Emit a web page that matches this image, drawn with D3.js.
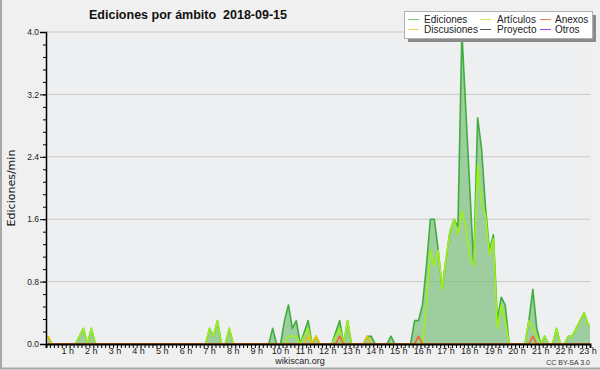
<!DOCTYPE html>
<html>
<head>
<meta charset="utf-8">
<script src="https://cdn.jsdelivr.net/npm/d3@7"></script>
<style>
  body { margin: 0; background: #f0f0f0; }
  svg { display: block; }
</style>
</head>
<body>
<svg id="chart" width="600" height="370"></svg>
<script>
// valores por tramo de 10 minutos (ediciones/min), tramo i centrado en i*10+5 min
var ediciones = [
  0.1,0,0,0,0,0,0,0,0.1,0.2,0,0.2,
  0,0,0,0,0,0,0,0,0,0,0,0,
  0,0,0,0,0,0,0,0,0,0,0,0,
  0,0,0,0,0,0.2,0.1,0.3,0,0,0.2,0,
  0,0,0,0,0,0,0,0,0,0.2,0,0,
  0.3,0.5,0.2,0.3,0,0.15,0.3,0,0.1,0,0,0,
  0,0.15,0.3,0,0.3,0,0,0,0,0.1,0.1,0,
  0,0,0,0.1,0,0,0,0,0,0.3,0.3,0.5,
  1.0,1.6,1.6,1.2,0.7,1.1,1.45,1.6,1.5,4.0,3.0,2.0,
  1.0,2.9,2.5,1.75,1.2,1.4,0.3,0.6,0.5,0,0,0,
  0,0,0.3,0.7,0.2,0,0.1,0,0,0.2,0,0,
  0.1,0.1,0.2,0.3,0.4,0.25,0.2
];
var articulos = [
  0,0,0,0,0,0,0,0,0.1,0.2,0,0.2,
  0,0,0,0,0,0,0,0,0,0,0,0,
  0,0,0,0,0,0,0,0,0,0,0,0,
  0,0,0,0,0,0.2,0.1,0.3,0,0,0.2,0,
  0,0,0,0,0,0,0,0,0,0,0,0,
  0,0.1,0.1,0.1,0,0.1,0.2,0,0,0,0,0,
  0,0.1,0.2,0,0.3,0,0,0,0,0,0,0,
  0,0,0,0,0,0,0,0,0,0,0,0,
  0.5,1.2,1.0,1.2,0.7,1.1,1.45,1.6,1.4,1.7,1.5,1.1,
  1.0,2.3,1.8,1.65,1.15,1.35,0.2,0.5,0.3,0,0,0,
  0,0,0.3,0.2,0.1,0,0.1,0,0,0.2,0,0,
  0.1,0.1,0.2,0.3,0.4,0.25,0.2
];
var anexos = [
  0,0,0,0,0,0,0,0,0,0,0,0,
  0,0,0,0,0,0,0,0,0,0,0,0,
  0,0,0,0,0,0,0,0,0,0,0,0,
  0,0,0,0,0,0,0,0,0,0,0,0,
  0,0,0,0,0,0,0,0,0,0,0,0,
  0,0,0,0,0,0,0,0,0,0,0,0,
  0,0,0.1,0,0,0,0,0,0,0,0,0,
  0,0,0,0,0,0,0,0,0,0,0.1,0,
  0,0,0,0,0,0,0,0,0,0,0,0,
  0,0,0,0,0,0,0,0,0,0,0,0,
  0,0,0,0.1,0,0,0,0,0,0,0,0,
  0,0,0,0,0,0,0
];
var discusiones = [
  0.1,0,0,0,0,0,0,0,0,0,0,0,
  0,0,0,0,0,0,0,0,0,0,0,0,
  0,0,0,0,0,0,0,0,0,0,0,0,
  0,0,0,0,0,0,0,0,0,0,0,0,
  0,0,0,0,0,0,0,0,0,0,0,0,
  0,0,0,0,0,0,0.1,0,0.1,0,0,0,
  0,0,0,0,0,0,0,0,0,0.1,0,0,
  0,0,0,0,0,0,0,0,0,0,0,0,
  0,0,0,0,0,0,0,0,0,0,0,0,
  0,0,0,0,0,0,0,0,0,0,0,0,
  0,0,0,0,0,0,0,0,0,0,0,0,
  0,0,0,0,0,0,0
];
var hourLabels = ["1 h","2 h","3 h","4 h","5 h","6 h","7 h","8 h","9 h","10 h","11 h","12 h",
  "13 h","14 h","15 h","16 h","17 h","18 h","19 h","20 h","21 h","22 h","23 h"];
var yTicks = [0, 0.8, 1.6, 2.4, 3.2, 4.0];
var legendItems = [
  { name: "Ediciones", color: "#80cc80" },
  { name: "Discusiones", color: "#f2d050" },
  { name: "Artículos", color: "#ccee66" },
  { name: "Proyecto", color: "#555555" },
  { name: "Anexos", color: "#f08050" },
  { name: "Otros", color: "#9a40f0" }
];

var svg = d3.select("#chart");
var margin = { top: 32, right: 10, bottom: 26, left: 46 },
  width = +svg.attr("width") - margin.left - margin.right,
  height = +svg.attr("height") - margin.top - margin.bottom;

var x = d3.scaleLinear().domain([0, 1380]).range([margin.left, margin.left + width]);
var y = d3.scaleLinear().domain([0, 4]).range([margin.top + height, margin.top]);

// fondo + marco
svg.append("rect").attr("width", 600).attr("height", 370).attr("fill", "#f0f0f0");
svg.append("rect")
  .attr("x", margin.left).attr("y", margin.top)
  .attr("width", width).attr("height", height)
  .attr("fill", "#eeeff1");
svg.append("path").attr("d", "M1,0V368.5H600").attr("fill", "none")
  .attr("stroke", "#a8a8a8").attr("stroke-width", 2);

// rejilla
svg.append("g").selectAll("line")
  .data(yTicks.slice(1))
  .enter().append("line")
  .attr("x1", margin.left).attr("x2", margin.left + width)
  .attr("y1", function (d) { return y(d); }).attr("y2", function (d) { return y(d); })
  .attr("stroke", "#c8c8c8").attr("stroke-width", 1);

svg.append("clipPath").attr("id", "clip")
  .append("rect").attr("x", margin.left).attr("y", 0)
  .attr("width", width).attr("height", margin.top + height);

var tmin = function (d, i) { return x(i * 10 + 5); };

var area = d3.area().x(tmin).y0(y(0)).y1(function (d) { return y(d); });
var line = d3.line().x(tmin).y(function (d) { return y(d); });

var g = svg.append("g").attr("clip-path", "url(#clip)");

g.append("path").datum(ediciones)
  .attr("d", area).attr("fill", "#6cb86c").attr("fill-opacity", 0.62);

var series = [
  { data: ediciones, color: "#3fae3f" },
  { data: articulos, color: "#9ef01a" },
  { data: discusiones, color: "#f0c400" },
  { data: anexos, color: "#f2652a" }
];
series.forEach(function (s) {
  g.append("path").datum(s.data)
    .attr("d", line)
    .attr("fill", "none")
    .attr("stroke", s.color)
    .attr("stroke-width", 1.6)
    .attr("stroke-linejoin", "round");
});

// eje x
svg.append("g")
  .attr("transform", "translate(0," + (margin.top + height) + ")")
  .call(d3.axisBottom(x).tickValues(d3.range(0, 1381, 10)).tickSize(4).tickFormat(""))
  .call(function (a) {
    a.select(".domain").attr("stroke", "#000").attr("stroke-width", 2);
    a.selectAll(".tick line").attr("stroke", "#000");
  });

svg.append("g").selectAll("text")
  .data(hourLabels)
  .enter().append("text")
  .attr("x", function (d, i) { return x((i + 1) * 60) - 2; })
  .attr("y", margin.top + height + 10)
  .attr("text-anchor", "middle")
  .attr("font-family", "Liberation Sans, Arial, sans-serif")
  .attr("font-size", 9)
  .attr("fill", "#222")
  .text(function (d) { return d; });

// eje y
svg.append("g")
  .attr("transform", "translate(" + margin.left + ",0)")
  .call(d3.axisLeft(y).tickValues(d3.range(0, 4.01, 0.16)).tickSize(3).tickFormat(""))
  .call(function (a) { a.select(".domain").remove(); a.selectAll(".tick line").attr("stroke", "#000"); });

svg.append("g")
  .attr("transform", "translate(" + margin.left + ",0)")
  .call(d3.axisLeft(y).tickValues(yTicks).tickSize(6).tickPadding(1).tickFormat(d3.format(".1f")))
  .call(function (a) {
    a.select(".domain").attr("stroke", "#000").attr("stroke-width", 1.5);
    a.selectAll(".tick line").attr("stroke", "#000");
    a.selectAll("text").attr("font-family", "Liberation Sans, Arial, sans-serif")
      .attr("font-size", 8.5).attr("fill", "#222");
  });

svg.append("text")
  .attr("transform", "translate(15," + 188 + ") rotate(-90)")
  .attr("text-anchor", "middle")
  .attr("font-family", "DejaVu Sans, sans-serif")
  .attr("font-size", 11)
  .attr("fill", "#111")
  .text("Ediciones/min");

// título
svg.append("text")
  .attr("x", 188).attr("y", 19)
  .attr("text-anchor", "middle")
  .attr("font-family", "Liberation Sans, Arial, sans-serif")
  .attr("font-weight", "bold")
  .attr("font-size", 12.5)
  .attr("fill", "#111")
  .attr("xml:space", "preserve")
  .text("Ediciones por ámbito  2018-09-15");

// leyenda
var lg = svg.append("g");
lg.append("rect").attr("x", 408).attr("y", 15).attr("width", 188).attr("height", 27).attr("fill", "#8a8a8a");
lg.append("rect").attr("x", 404.5).attr("y", 11.5).attr("width", 188).attr("height", 27)
  .attr("fill", "#fff").attr("stroke", "#b0b0b0");
var colX = [408, 480, 540], textX = [424, 497, 555], rowY = [19.5, 29.5];
legendItems.forEach(function (d, i) {
  var c = Math.floor(i / 2), r = i % 2;
  lg.append("line").attr("x1", colX[c]).attr("x2", colX[c] + 11)
    .attr("y1", rowY[r]).attr("y2", rowY[r]).attr("stroke", d.color).attr("stroke-width", 1);
  lg.append("text").attr("x", textX[c]).attr("y", rowY[r] + 3.5)
    .attr("font-family", "Liberation Sans, Arial, sans-serif")
    .attr("font-size", 10).attr("fill", "#222")
    .text(d.name);
});

// pie
svg.append("text").attr("x", 300).attr("y", 364).attr("text-anchor", "middle")
  .attr("font-family", "Liberation Sans, Arial, sans-serif").attr("font-size", 9)
  .attr("fill", "#222").text("wikiscan.org");
svg.append("text").attr("x", 590).attr("y", 365).attr("text-anchor", "end")
  .attr("font-family", "Liberation Sans, Arial, sans-serif").attr("font-size", 7)
  .attr("fill", "#333").text("CC BY-SA 3.0");
</script>
</body>
</html>
